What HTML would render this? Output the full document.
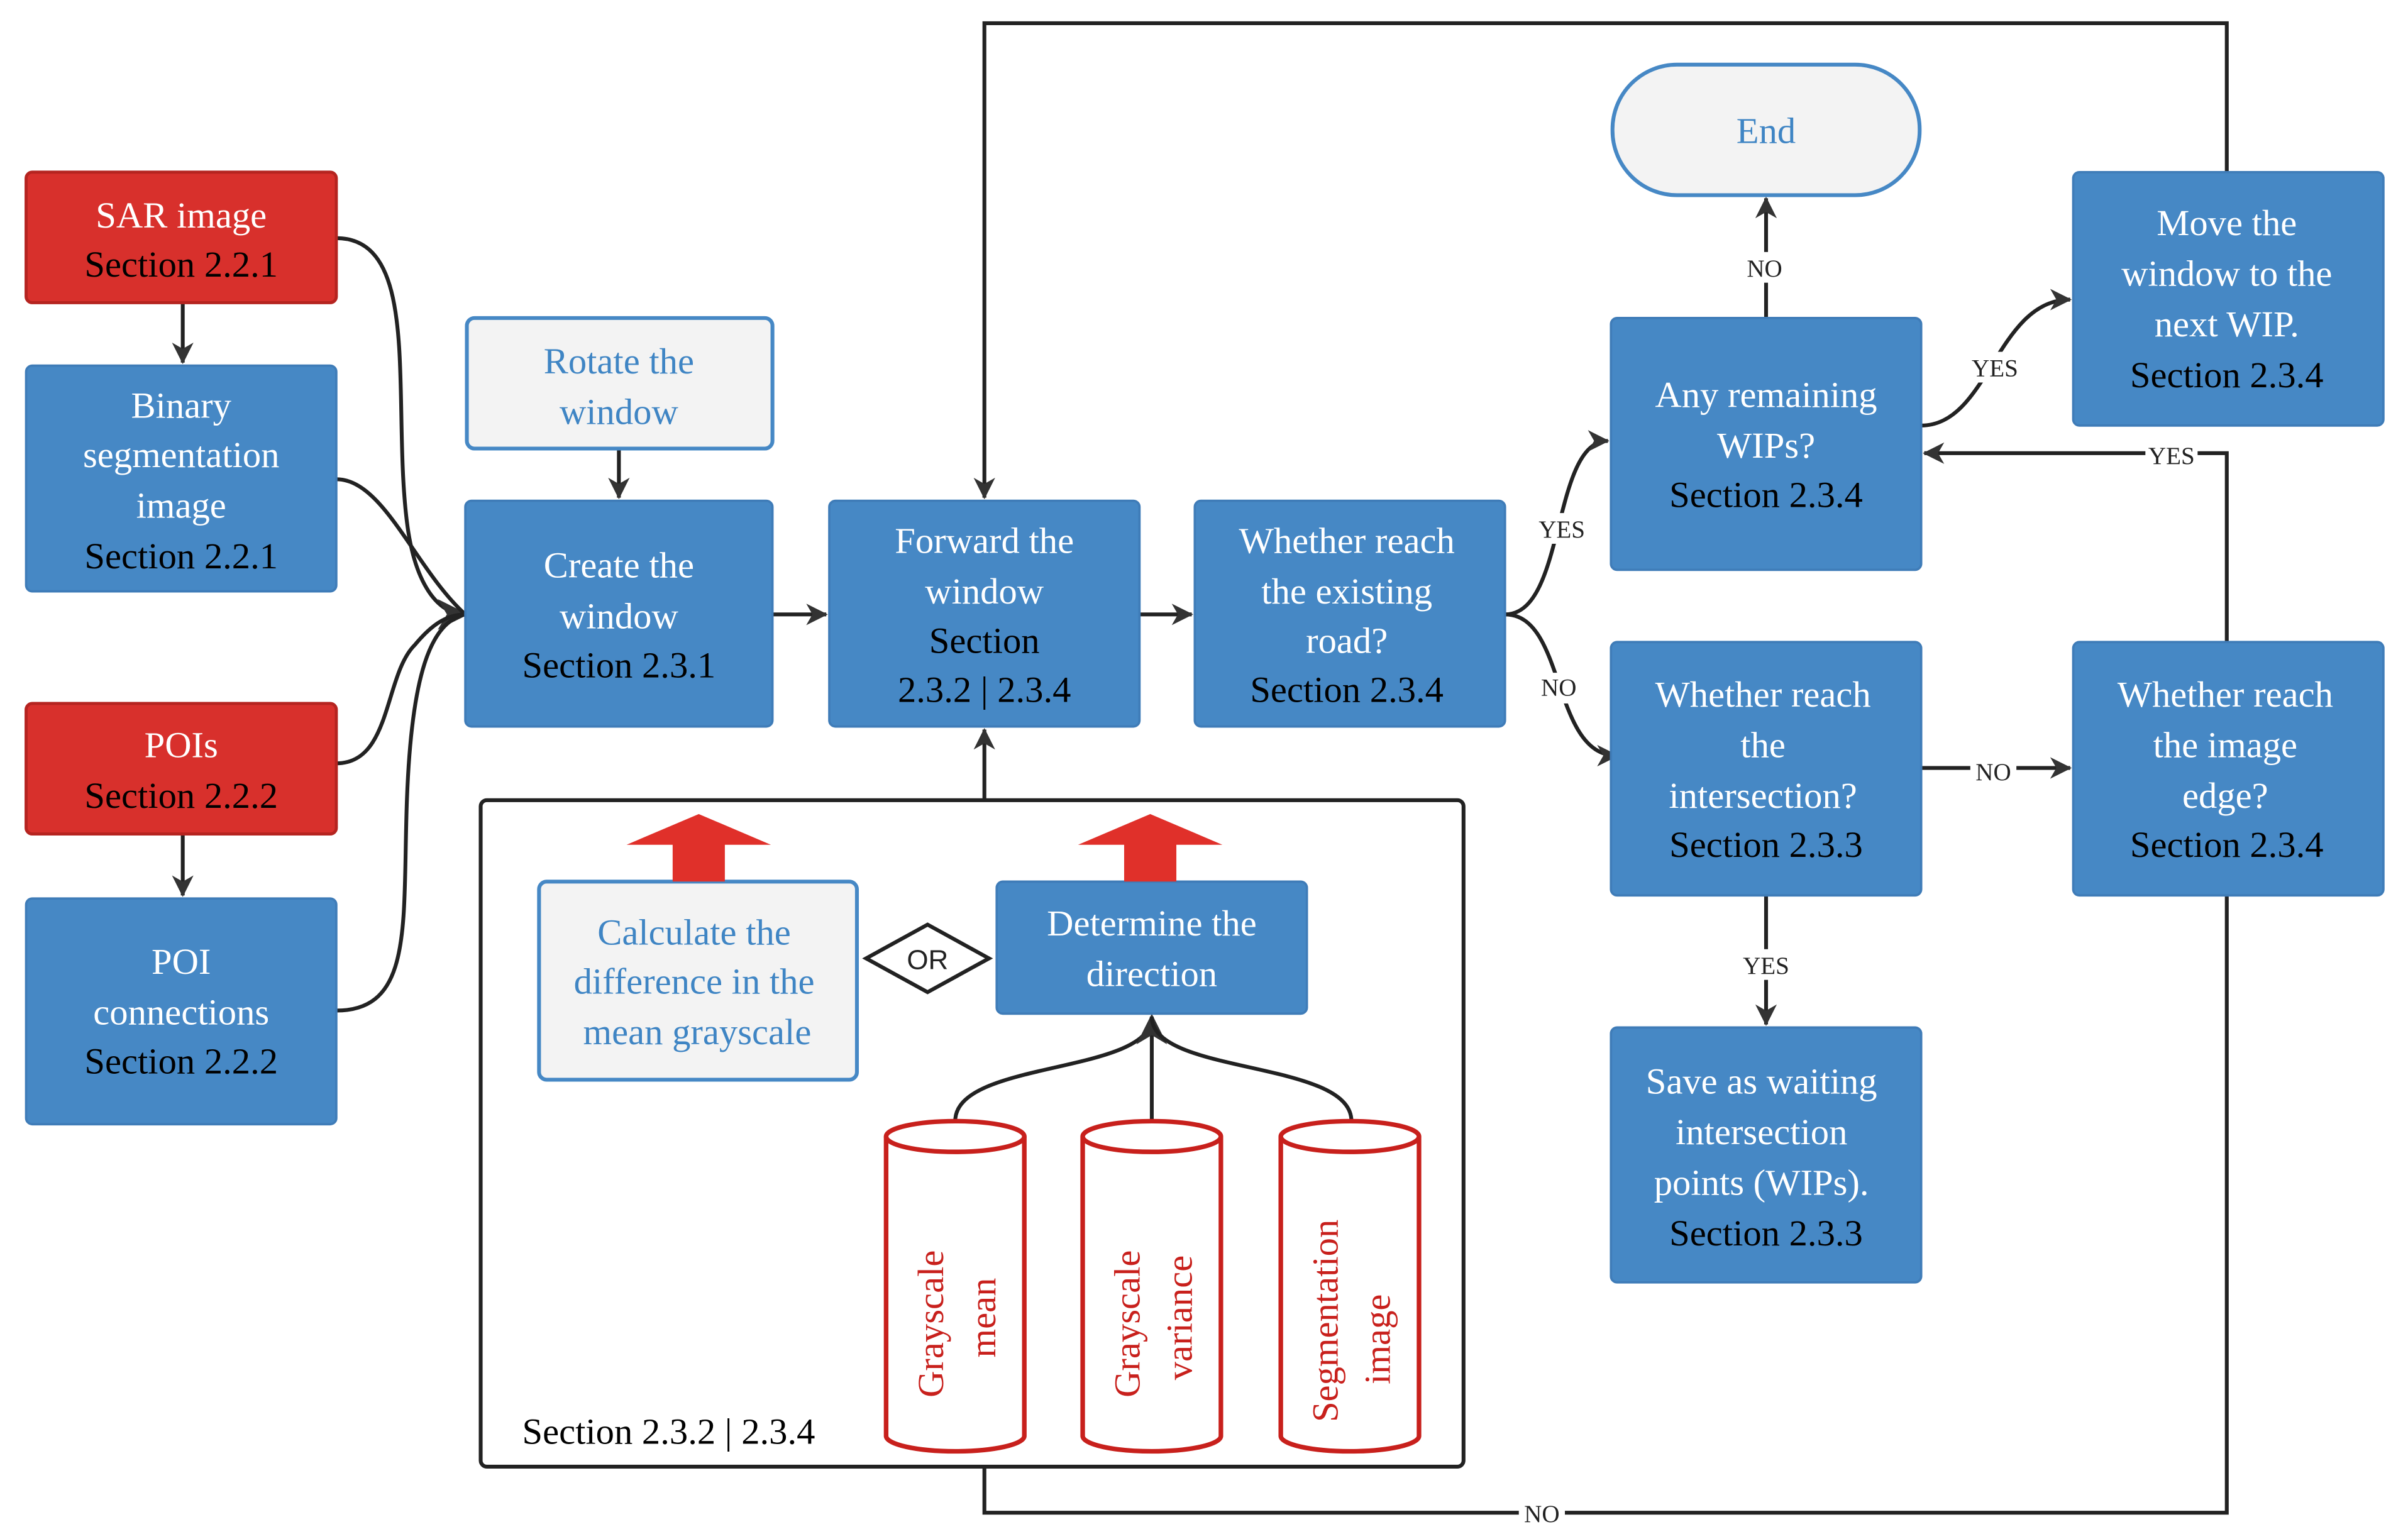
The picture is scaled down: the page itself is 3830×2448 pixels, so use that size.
<!DOCTYPE html>
<html><head><meta charset="utf-8"><style>html,body{margin:0;padding:0;background:#fff}svg{display:block}svg text{font-family:"Liberation Serif","DejaVu Serif",serif}</style></head>
<body>
<svg width="3830" height="2448" viewBox="0 0 1568 1002" xmlns="http://www.w3.org/2000/svg">
<defs>
<marker id="a" markerWidth="14" markerHeight="14" refX="13" refY="7" orient="auto" markerUnits="userSpaceOnUse" viewBox="0 0 14 14"><path d="M0,0 L14,7 L0,14 L4,7 z" fill="#333"/></marker>
<marker id="b" markerWidth="20" markerHeight="20" refX="18" refY="10" orient="auto" markerUnits="userSpaceOnUse" viewBox="0 0 20 20"><path d="M0,0 L20,10 L0,20 L6,10 z" fill="#333"/></marker>
</defs>
<rect width="1568" height="1002" fill="#fff"/>
<g fill="none" stroke="#222" stroke-width="2.5">
<path d="M1450,112 V15 H641 V324" marker-end="url(#a)"/>
<path d="M1450,583 V985 H641 V955"/>
<path d="M641,521 V475" marker-end="url(#a)"/>
<path d="M1450,418 V295 H1253" marker-end="url(#a)"/>
<path d="M219,155 C275,155 255,260 265,340 C270,380 285,400 303,400" marker-end="url(#b)"/>
<path d="M219,312 C250,312 270,370 303,400"/>
<path d="M219,497 C255,497 250,440 270,420 C280,408 290,400 303,400"/>
<path d="M219,658 C270,658 262,600 265,520 C268,440 280,405 303,400"/>
<path d="M119,197 V236" marker-end="url(#a)"/>
<path d="M119,543 V583" marker-end="url(#a)"/>
<path d="M403,292 V324" marker-end="url(#a)"/>
<path d="M503,400 H538" marker-end="url(#a)"/>
<path d="M742,400 H776" marker-end="url(#a)"/>
<path d="M980,400 C1020,400 1010,287 1047,287" marker-end="url(#a)"/>
<path d="M980,400 C1020,400 1010,492 1053,492" marker-end="url(#a)"/>
<path d="M1150,207 V129" marker-end="url(#a)"/>
<path d="M1251,277 C1295,277 1300,195 1348,195" marker-end="url(#a)"/>
<path d="M1251,500 H1348" marker-end="url(#a)"/>
<path d="M1150,583 V667" marker-end="url(#a)"/>
<path d="M622,730 C622,690 750,700 750,662" />
<path d="M750,730 V662" marker-end="url(#b)"/>
<path d="M880,730 C880,690 750,700 750,662" />
</g>
<g font-size="16" text-anchor="middle" fill="#222">
<rect x="1000" y="334" width="34" height="20" fill="#fff"/><text x="1017" y="350">YES</text>
<rect x="1000" y="438" width="30" height="20" fill="#fff"/><text x="1015" y="453">NO</text>
<rect x="1134" y="164" width="30" height="20" fill="#fff"/><text x="1149" y="180">NO</text>
<rect x="1282" y="229" width="34" height="20" fill="#fff"/><text x="1299" y="245">YES</text>
<rect x="1283" y="492" width="30" height="20" fill="#fff"/><text x="1298" y="508">NO</text>
<rect x="1133" y="618" width="34" height="20" fill="#fff"/><text x="1150" y="634">YES</text>
<rect x="1397" y="286" width="34" height="20" fill="#fff"/><text x="1414" y="302">YES</text>
<rect x="989" y="976" width="30" height="20" fill="#fff"/><text x="1004" y="991">NO</text>
</g>
<rect x="313" y="521" width="640" height="434" rx="4" fill="none" stroke="#222" stroke-width="2.5"/>
<text x="340" y="940" font-size="24" fill="#000">Section 2.3.2 | 2.3.4</text>
<g fill="#d8302c" stroke="#b52420" stroke-width="2">
<rect x="17" y="112" width="202" height="85" rx="4"/>
<rect x="17" y="458" width="202" height="85" rx="4"/>
</g>
<g fill="#4688c5" stroke="#3f7cb8" stroke-width="1.5">
<rect x="17" y="238" width="202" height="147" rx="4"/>
<rect x="17" y="585" width="202" height="147" rx="4"/>
<rect x="303" y="326" width="200" height="147" rx="4"/>
<rect x="540" y="326" width="202" height="147" rx="4"/>
<rect x="778" y="326" width="202" height="147" rx="4"/>
<rect x="1049" y="207" width="202" height="164" rx="4"/>
<rect x="1350" y="112" width="202" height="165" rx="4"/>
<rect x="1049" y="418" width="202" height="165" rx="4"/>
<rect x="1350" y="418" width="202" height="165" rx="4"/>
<rect x="1049" y="669" width="202" height="166" rx="4"/>
<rect x="649" y="574" width="202" height="86" rx="4"/>
</g>
<g fill="#f3f3f3" stroke="#4688c5" stroke-width="2.5">
<rect x="304" y="207" width="199" height="85" rx="5"/>
<rect x="351" y="574" width="207" height="129" rx="5"/>
<rect x="1050" y="42" width="200" height="85" rx="42"/>
</g>
<polygon points="564,624 604,602 644,624 604,646" fill="#fff" stroke="#222" stroke-width="2.5"/>
<text x="604" y="631" font-size="18" text-anchor="middle" style="font-family:'Liberation Sans',sans-serif" fill="#222">OR</text>
<g fill="#e0302a">
<polygon points="408,550 455,530 502,550 472,550 472,574 438,574 438,550"/>
<polygon points="702,550 749,530 796,550 766,550 766,574 732,574 732,550"/>
</g>
<g fill="#fff" stroke="#c8201c" stroke-width="3">
<path d="M577,740 V935 A45,10 0 0 0 667,935 V740"/><ellipse cx="622" cy="740" rx="45" ry="10"/>
<path d="M705,740 V935 A45,10 0 0 0 795,935 V740"/><ellipse cx="750" cy="740" rx="45" ry="10"/>
<path d="M834,740 V935 A45,10 0 0 0 924,935 V740"/><ellipse cx="879" cy="740" rx="45" ry="10"/>
</g>
<g font-size="24" fill="#c8201c" text-anchor="middle">
<text transform="translate(614,862) rotate(-90)">Grayscale</text>
<text transform="translate(648,858) rotate(-90)">mean</text>
<text transform="translate(742,862) rotate(-90)">Grayscale</text>
<text transform="translate(776,858) rotate(-90)">variance</text>
<text transform="translate(871,860) rotate(-90)">Segmentation</text>
<text transform="translate(905,872) rotate(-90)">image</text>
</g>
<g font-size="24" text-anchor="middle">
<g fill="#fff">
<text x="118" y="148">SAR image</text>
<text x="118" y="272">Binary</text><text x="118" y="304">segmentation</text><text x="118" y="337">image</text>
<text x="118" y="493">POIs</text>
<text x="118" y="634">POI</text><text x="118" y="667">connections</text>
<text x="403" y="376">Create the</text><text x="403" y="409">window</text>
<text x="641" y="360">Forward the</text><text x="641" y="393">window</text>
<text x="877" y="360">Whether reach</text><text x="877" y="393">the existing</text><text x="877" y="425">road?</text>
<text x="1150" y="265">Any remaining</text><text x="1150" y="298">WIPs?</text>
<text x="1450" y="153">Move the</text><text x="1450" y="186">window to the</text><text x="1450" y="219">next WIP.</text>
<text x="1148" y="460">Whether reach</text><text x="1148" y="493">the</text><text x="1148" y="526">intersection?</text>
<text x="1449" y="460">Whether reach</text><text x="1449" y="493">the image</text><text x="1449" y="526">edge?</text>
<text x="1147" y="712">Save as waiting</text><text x="1147" y="745">intersection</text><text x="1147" y="778">points (WIPs).</text>
<text x="750" y="609">Determine the</text><text x="750" y="642">direction</text>
</g>
<g fill="#000">
<text x="118" y="180">Section 2.2.1</text>
<text x="118" y="370">Section 2.2.1</text>
<text x="118" y="526">Section 2.2.2</text>
<text x="118" y="699">Section 2.2.2</text>
<text x="403" y="441">Section 2.3.1</text>
<text x="641" y="425">Section</text><text x="641" y="457">2.3.2 | 2.3.4</text>
<text x="877" y="457">Section 2.3.4</text>
<text x="1150" y="330">Section 2.3.4</text>
<text x="1450" y="252">Section 2.3.4</text>
<text x="1150" y="558">Section 2.3.3</text>
<text x="1450" y="558">Section 2.3.4</text>
<text x="1150" y="811">Section 2.3.3</text>
</g>
<g fill="#3f85c4">
<text x="403" y="243">Rotate the</text><text x="403" y="276">window</text>
<text x="452" y="615">Calculate the</text><text x="452" y="647">difference in the</text><text x="454" y="680">mean grayscale</text>
<text x="1150" y="93">End</text>
</g>
</g>
</svg>
</body></html>
